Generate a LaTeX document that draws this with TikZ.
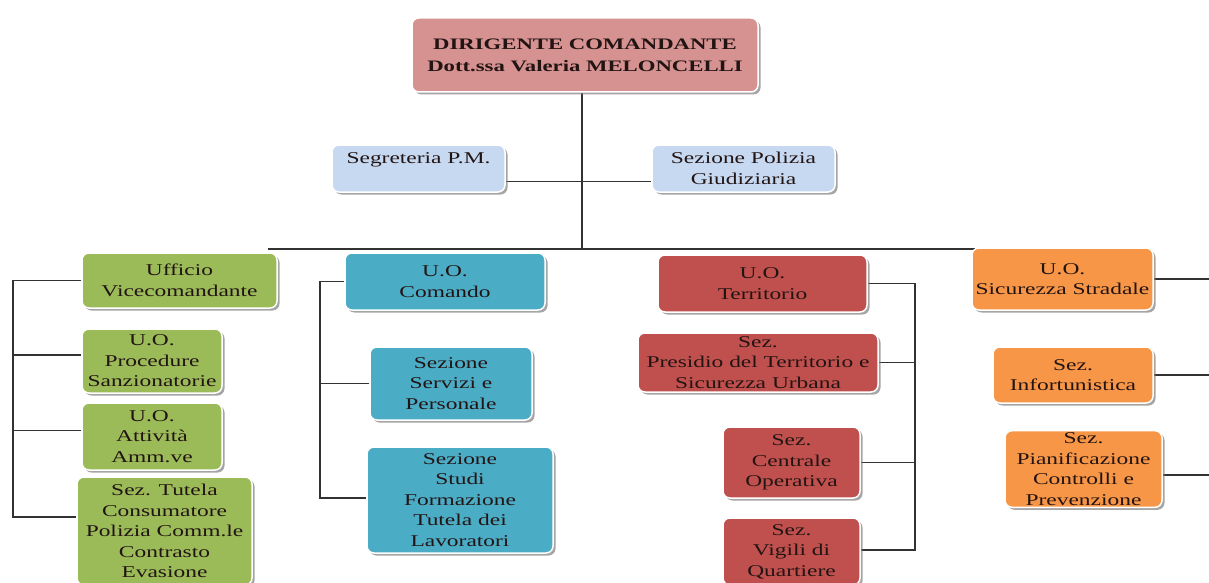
\documentclass[tikz,border=0pt]{standalone}
\usepackage{fontspec}
\setmainfont{Liberation Serif}[FakeStretch=1.42]
\usetikzlibrary{shadows,calc,backgrounds}
\definecolor{pinkc}{RGB}{214,145,145}
\definecolor{lblue}{RGB}{198,217,241}
\definecolor{greenc}{RGB}{155,187,89}
\definecolor{bluec}{RGB}{75,172,198}
\definecolor{redc}{RGB}{192,80,77}
\definecolor{orangec}{RGB}{247,150,70}
\definecolor{txt}{RGB}{35,20,20}
\definecolor{lnk}{RGB}{50,50,50}
\begin{document}
\begin{tikzpicture}[x=1pt,y=-1pt,
  box/.style={rounded corners=7pt, draw=white, line width=1.5pt, align=center,
    inner sep=2pt, text=txt, font=\fontsize{16.5}{20.5}\selectfont,
    drop shadow={shadow xshift=2.5pt, shadow yshift=-2.5pt, fill=black!50, opacity=0.7}},
  link/.style={draw=lnk, line width=1.1pt}]
\useasboundingbox (0,0) rectangle (1209,583);

% top
\node[box, fill=pinkc, minimum width=346pt, minimum height=74pt,
  font=\bfseries\fontsize{16}{22}\selectfont] (dir) at (585,55)
  {DIRIGENTE COMANDANTE\\Dott.ssa Valeria MELONCELLI};
\node[box, fill=lblue, minimum width=173pt, minimum height=47pt] (seg) at (418.5,168.5) {Segreteria P.M.\\\mbox{}};
\node[box, fill=lblue, minimum width=183pt, minimum height=47pt] (pol) at (743.5,168.5) {Sezione Polizia\\Giudiziaria};

% green
\node[box, fill=greenc, minimum width=195pt, minimum height=55pt] (uff) at (179.5,280.5) {Ufficio\\Vicecomandante};
\node[box, fill=greenc, minimum width=140pt, minimum height=64pt] (proc) at (152,361) {U.O.\\Procedure\\Sanzionatorie};
\node[box, fill=greenc, minimum width=140pt, minimum height=67pt] (att) at (152,436.5) {U.O.\\Attività\\Amm.ve};
\node[box, fill=greenc, minimum width=175pt, minimum height=108pt] (tut) at (164.5,531) {Sez. Tutela\\Consumatore\\Polizia Comm.le\\Contrasto\\Evasione};

% blue
\node[box, fill=bluec, minimum width=200pt, minimum height=57pt] (com) at (445,281.5) {U.O.\\Comando};
\node[box, fill=bluec, minimum width=162pt, minimum height=73pt] (serv) at (451,383.5) {Sezione\\Servizi e\\Personale};
\node[box, fill=bluec, minimum width=186pt, minimum height=106pt] (stud) at (460,500) {Sezione\\Studi\\Formazione\\Tutela dei\\Lavoratori};

% red
\node[box, fill=redc, minimum width=209pt, minimum height=57pt] (terr) at (762.5,283.5) {U.O.\\Territorio};
\node[box, fill=redc, minimum width=240pt, minimum height=59pt] (pres) at (758,362.5) {Sez.\\Presidio del Territorio e\\Sicurezza Urbana};
\node[box, fill=redc, minimum width=137pt, minimum height=71pt] (cent) at (791.5,462.5) {Sez.\\Centrale\\Operativa};
\node[box, fill=redc, minimum width=137pt, minimum height=67pt] (vig) at (791.5,551.5) {Sez.\\Vigili di\\Quartiere};

% orange
\node[box, fill=orangec, minimum width=181pt, minimum height=62pt] (sic) at (1062.5,279) {U.O.\\Sicurezza Stradale};
\node[box, fill=orangec, minimum width=160pt, minimum height=56pt] (inf) at (1073,375) {Sez.\\Infortunistica};
\node[box, fill=orangec, minimum width=157pt, minimum height=72pt] (pian) at (1083.5,469) {Sez.\\Pianificazione\\Controlli e\\Prevenzione};

% coordinates
\coordinate (spine) at (582,249);
\coordinate (busL) at (268,249);
\coordinate (busR) at (975,249);
\coordinate (gT) at (13,280.5);
\coordinate (gB) at (13,517);
\coordinate (bT) at (320,281.5);
\coordinate (bB) at (320,498);
\coordinate (rT) at (915,283.5);
\coordinate (rB) at (915,550);
\coordinate (oR) at (1209,300);

\begin{scope}[on background layer]
\fill[white] (0,0) rectangle (1209,583);
\draw[link] (dir.south -| spine) -- (spine);
\draw[link] (busL) -- (busR);
\draw[link] ($(seg.east)+(0,13)$) -- ($(pol.west)+(0,13)$);
% green bracket
\draw[link] (uff.west) -- (uff.west -| gT) -- (gB) -- (gB -| tut.west);
\draw[link] ([yshift=6pt]proc.west) -- ([yshift=6pt]proc.west -| gT);
\draw[link] ([yshift=6pt]att.west) -- ([yshift=6pt]att.west -| gT);
% blue bracket
\draw[link] (com.west) -- (com.west -| bT) -- (bB) -- (bB -| stud.west);
\draw[link] (serv.west) -- (serv.west -| bT);
% red bracket
\draw[link] (terr.east) -- (terr.east -| rT) -- (rB) -- (rB -| vig.east);
\draw[link] (pres.east) -- (pres.east -| rT);
\draw[link] (cent.east) -- (cent.east -| rT);
% orange lines
\draw[link] (sic.east) -- (sic.east -| oR);
\draw[link] (inf.east) -- (inf.east -| oR);
\draw[link] ([yshift=-6pt]pian.east) -- ([yshift=-6pt]pian.east -| oR);
\end{scope}
\end{tikzpicture}
\end{document}
